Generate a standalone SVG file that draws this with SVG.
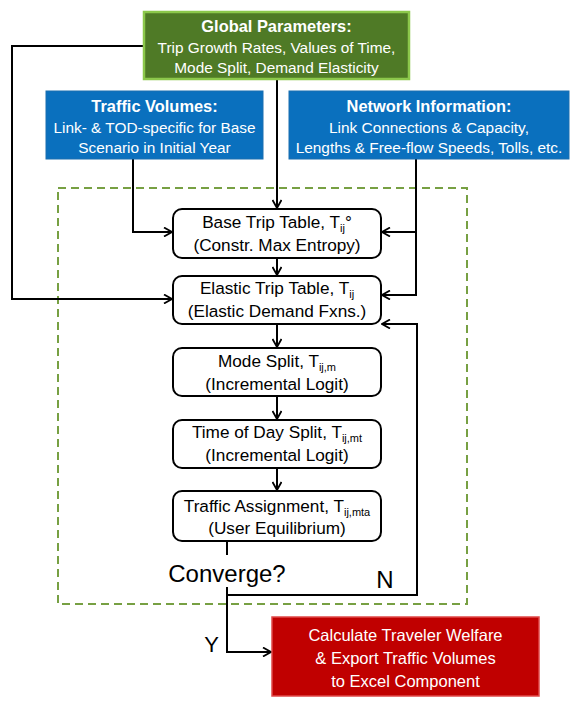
<svg xmlns="http://www.w3.org/2000/svg" width="575" height="703" viewBox="0 0 575 703">
<defs>
<style>
.t{font-family:"Liberation Sans",Arial,sans-serif;text-anchor:middle}
.w{fill:#ffffff}
.h{font-weight:bold;font-size:16.4px}
.b{font-size:15.4px}
.p{font-size:17.2px;fill:#000}
.sub{font-size:11px}
.box{fill:#fff;stroke:#000;stroke-width:2}
.ln{fill:none;stroke:#000;stroke-width:2}
</style>
<marker id="ar" viewBox="0 0 10 10" refX="9" refY="5" markerWidth="10" markerHeight="10" markerUnits="userSpaceOnUse" orient="auto">
<path d="M1,0.5 L9,5 L1,9.5" fill="none" stroke="#000" stroke-width="1.8"/>
</marker>
</defs>
<rect width="575" height="703" fill="#fff"/>
<rect id="loop" x="58" y="188" width="409" height="416" fill="none" stroke="#77a043" stroke-width="2" stroke-dasharray="8,5"/>
<g id="connectors">
<path class="ln" d="M144,46 H12 V299 H172" marker-end="url(#ar)"/>
<path class="ln" d="M277,79 V208" marker-end="url(#ar)"/>
<path class="ln" d="M133,159 V232 H172" marker-end="url(#ar)"/>
<path class="ln" d="M416,159 V295 H382" marker-end="url(#ar)"/>
<path class="ln" d="M416,232 H382" marker-end="url(#ar)"/>
<path class="ln" d="M277,258 V275" marker-end="url(#ar)"/>
<path class="ln" d="M277,324 V347" marker-end="url(#ar)"/>
<path class="ln" d="M277,396 V419" marker-end="url(#ar)"/>
<path class="ln" d="M277,468 V490" marker-end="url(#ar)"/>
<path class="ln" d="M227,541 V555"/>
<path class="ln" d="M227,587 V652 H271" marker-end="url(#ar)"/>
<path class="ln" d="M227,595 H417 V324 H382" marker-end="url(#ar)"/>
</g>
<g id="global">
<rect x="144" y="12" width="265" height="67" fill="#4f7a26" stroke="#8cc84b" stroke-width="2.5"/>
<text class="t w h" x="276.5" y="32">Global Parameters:</text>
<text class="t w b" x="276.5" y="53">Trip Growth Rates, Values of Time,</text>
<text class="t w b" x="276.5" y="73">Mode Split, Demand Elasticity</text>
</g>
<g id="traffic">
<rect x="46" y="91" width="217" height="68" fill="#0a70be" stroke="#1a6fb0" stroke-width="1"/>
<text class="t w h" x="154.5" y="112">Traffic Volumes:</text>
<text class="t w b" x="154.5" y="133">Link- &amp; TOD-specific for Base</text>
<text class="t w b" x="154.5" y="153">Scenario in Initial Year</text>
</g>
<g id="network">
<rect x="289" y="91" width="280" height="68" fill="#0a70be" stroke="#1a6fb0" stroke-width="1"/>
<text class="t w h" x="429" y="112">Network Information:</text>
<text class="t w b" x="429" y="133">Link Connections &amp; Capacity,</text>
<text class="t w b" x="429" y="153">Lengths &amp; Free-flow Speeds, Tolls, etc.</text>
</g>
<g id="base">
<rect class="box" x="173" y="209" width="208" height="49" rx="9"/>
<text class="t p" x="277" y="228">Base Trip Table, T<tspan class="sub" dy="4">ij</tspan><tspan dy="-4">°</tspan></text>
<text class="t p" x="277" y="251">(Constr. Max Entropy)</text>
</g>
<g id="elastic">
<rect class="box" x="173" y="276" width="208" height="48" rx="9"/>
<text class="t p" x="277" y="294">Elastic Trip Table, T<tspan class="sub" dy="4">ij</tspan></text>
<text class="t p" x="277" y="317">(Elastic Demand Fxns.)</text>
</g>
<g id="mode">
<rect class="box" x="173" y="348" width="208" height="48" rx="9"/>
<text class="t p" x="277" y="367">Mode Split, T<tspan class="sub" dy="4">ij,m</tspan></text>
<text class="t p" x="277" y="390">(Incremental Logit)</text>
</g>
<g id="tod">
<rect class="box" x="173" y="420" width="208" height="48" rx="9"/>
<text class="t p" x="277" y="438">Time of Day Split, T<tspan class="sub" dy="4">ij,mt</tspan></text>
<text class="t p" x="277" y="461">(Incremental Logit)</text>
</g>
<g id="assign">
<rect class="box" x="173" y="491" width="208" height="50" rx="9"/>
<text class="t p" x="277" y="512">Traffic Assignment, T<tspan class="sub" dy="4">ij,mta</tspan></text>
<text class="t p" x="277" y="534">(User Equilibrium)</text>
</g>
<g id="converge">
<text class="t" x="227" y="582" font-size="24">Converge?</text>
<text class="t" x="385" y="588" font-size="24">N</text>
<text class="t" x="211.5" y="652" font-size="22">Y</text>
</g>
<g id="welfare">
<rect x="272" y="617" width="267" height="79" fill="#c00000" stroke="#e04848" stroke-width="1.5"/>
<text class="t w" x="405.5" y="641" font-size="16.5">Calculate Traveler Welfare</text>
<text class="t w" x="405.5" y="664" font-size="16.5">&amp; Export Traffic Volumes</text>
<text class="t w" x="405.5" y="687" font-size="16.5">to Excel Component</text>
</g>
</svg>
